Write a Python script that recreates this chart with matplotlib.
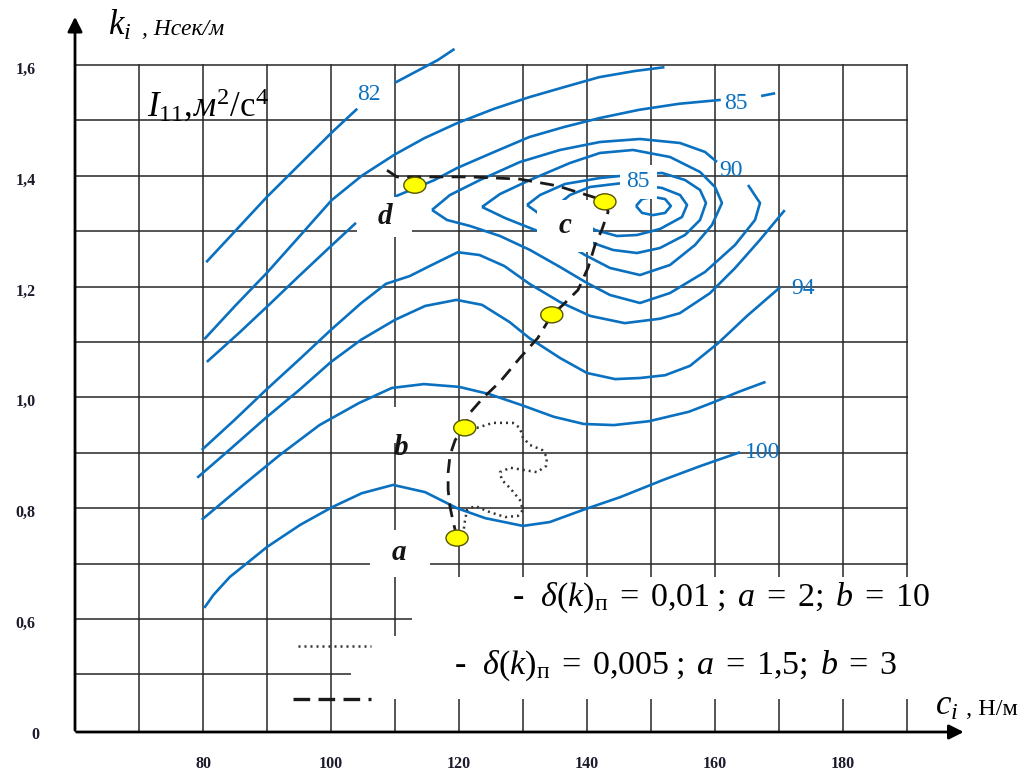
import matplotlib
matplotlib.use("Agg")
import matplotlib.pyplot as plt
from matplotlib.patches import Ellipse, Rectangle
import numpy as np

plt.rcParams['mathtext.fontset'] = 'custom'
plt.rcParams['mathtext.rm'] = 'Liberation Serif'
plt.rcParams['mathtext.it'] = 'Liberation Serif:italic'
plt.rcParams['mathtext.bf'] = 'Liberation Serif:bold'
SERIF = ['Liberation Serif', 'DejaVu Serif']

# ---------------- data (c_i in N/m, k_i in N*s/m) ----------------
x_ticks = [80, 100, 120, 140, 160, 180]
x_tick_labels = ['80', '100', '120', '140', '160', '180']
y_ticks = [1.6, 1.4, 1.2, 1.0, 0.8, 0.6, 0.4]
y_tick_labels = ['1,6', '1,4', '1,2', '1,0', '0,8', '0,6', '0']
grid_x = [70, 80, 90, 100, 110, 120, 130, 140, 150, 160, 170, 180, 190]
grid_y = [0.5, 0.6, 0.7, 0.8, 0.9, 1.0, 1.1, 1.2, 1.3, 1.4, 1.5, 1.6]

# contour "82"
c82_a_x = [80.5, 90.0, 100.2, 104.1]
c82_a_y = [1.244, 1.362, 1.479, 1.521]
c82_b_x = [110.0, 116.7, 119.3]
c82_b_y = [1.568, 1.609, 1.629]
# second line
cB_x = [80.2, 85.0, 90.0, 95.1, 100.1, 104.8, 109.9, 114.6, 119.7, 125.5, 131.0, 136.4, 141.9, 147.4, 152.1]
cB_y = [1.105, 1.165, 1.225, 1.291, 1.356, 1.400, 1.438, 1.468, 1.495, 1.521, 1.542, 1.560, 1.578, 1.589, 1.596]
# "85" line
c85_a_x = [80.6, 85.6, 90.3, 95.0, 99.7, 103.9]
c85_a_y = [1.064, 1.116, 1.167, 1.219, 1.270, 1.315]
c85_b_x = [109.9, 116.1, 119.7, 125.5, 131.0, 136.4, 141.9, 148.1, 154.4, 160.9]
c85_b_y = [1.362, 1.392, 1.414, 1.443, 1.470, 1.488, 1.504, 1.519, 1.530, 1.537]
c85_c_x = [167.2, 169.4]
c85_c_y = [1.544, 1.549]
# line with bump, ending upper right
cD_x = [79.8, 84.9, 89.8, 95.0, 100.0, 104.7, 108.6, 112.3, 115.4, 119.8, 123.2, 127.1, 131.0, 135.8, 140.5, 145.9, 151.4, 154.5, 159.2, 163.1, 167.0, 170.9]
cD_y = [0.905, 0.959, 1.013, 1.068, 1.122, 1.170, 1.205, 1.219, 1.237, 1.262, 1.257, 1.237, 1.205, 1.172, 1.147, 1.134, 1.142, 1.152, 1.188, 1.233, 1.284, 1.338]
# "94" line
c94_x = [79.1, 84.1, 89.8, 95.0, 100.0, 104.7, 110.0, 114.7, 119.6, 123.6, 127.9, 131.0, 135.8, 140.0, 144.4, 148.3, 152.2, 156.1, 160.5, 165.0, 170.2]
c94_y = [0.855, 0.905, 0.963, 1.013, 1.064, 1.104, 1.140, 1.165, 1.176, 1.167, 1.136, 1.107, 1.071, 1.044, 1.033, 1.035, 1.040, 1.057, 1.098, 1.147, 1.199]
# next line
cF_x = [79.8, 86.3, 92.0, 98.2, 104.4, 109.5, 114.5, 120.0, 124.7, 129.8, 134.8, 139.5, 144.2, 149.7, 155.9, 159.5, 163.7, 167.9]
cF_y = [0.779, 0.842, 0.896, 0.950, 0.990, 1.017, 1.024, 1.019, 1.006, 0.986, 0.965, 0.952, 0.950, 0.957, 0.974, 0.990, 1.010, 1.028]
# "100" line
c100_x = [80.2, 81.6, 84.2, 86.9, 90.0, 95.2, 100.2, 104.8, 109.7, 114.7, 119.7, 124.1, 130.0, 134.2, 139.4, 145.2, 151.9, 157.7, 163.9]
c100_y = [0.620, 0.643, 0.676, 0.701, 0.730, 0.770, 0.802, 0.827, 0.842, 0.829, 0.800, 0.782, 0.768, 0.775, 0.797, 0.820, 0.851, 0.876, 0.901]

# closed rings around the minimum
ring1_a_x = [115.78, 118.59, 123.28, 129.53, 135.78, 142.03, 148.28, 154.53, 158.44, 160.31]
ring1_a_y = [1.3383, 1.3653, 1.3924, 1.4249, 1.4466, 1.4610, 1.4664, 1.4592, 1.4430, 1.4249]
ring1_b_x = [165.16, 167.03, 166.25, 163.13, 158.44, 152.97, 148.28, 143.59, 140.0, 135.78, 131.09, 126.41, 121.72, 118.13, 115.78]
ring1_b_y = [1.3834, 1.3509, 1.3202, 1.2751, 1.2264, 1.1884, 1.1704, 1.1848, 1.2065, 1.2354, 1.2661, 1.2913, 1.3094, 1.3202, 1.3383]
ring2_x = [123.59, 126.41, 131.09, 137.34, 142.03, 147.19, 152.97, 157.66, 160.0, 161.09, 159.53, 156.88, 152.97, 148.28, 143.59, 139.69, 135.78, 131.09, 127.19, 123.59]
ring2_y = [1.3437, 1.3671, 1.3924, 1.4231, 1.4412, 1.4466, 1.4339, 1.4069, 1.3798, 1.3509, 1.3112, 1.2751, 1.2390, 1.2209, 1.2336, 1.2570, 1.2841, 1.3058, 1.3238, 1.3437]
ring3_x = [130.63, 132.66, 136.56, 142.03, 146.72, 151.72, 155.31, 157.66, 158.59, 157.66, 155.31, 151.41, 147.81, 144.06, 140.47, 136.56, 133.44, 130.63]
ring3_y = [1.3473, 1.3653, 1.3852, 1.3960, 1.4014, 1.4051, 1.3924, 1.3744, 1.3509, 1.3202, 1.2931, 1.2697, 1.2606, 1.2661, 1.2805, 1.3022, 1.3238, 1.3473]
ring4_x = [135.78, 137.34, 140.47, 145.63, 151.72, 154.53, 155.63, 154.84, 151.41, 147.81, 144.69, 141.25, 138.13, 135.78]
ring4_y = [1.3509, 1.3653, 1.3798, 1.3870, 1.3780, 1.3653, 1.3473, 1.3256, 1.3040, 1.2931, 1.2913, 1.3022, 1.3238, 1.3509]
ring5_x = [147.66, 148.6, 150.3, 152.2, 153.1, 152.2, 150.3, 148.6, 147.66]
ring5_y = [1.3455, 1.358, 1.362, 1.358, 1.3455, 1.333, 1.329, 1.333, 1.3455]

# optimisation paths and their points
dash_x = [108.75, 110.3, 113.9, 121.7, 129.5, 135.3, 140.9, 142.8, 143.3, 142.3, 141.25, 140.2, 138.6, 136.25, 134.5,
          132.3, 129.5, 126.4, 123.75, 121.7, 120.9, 119.4, 118.6, 118.3, 118.3, 118.6, 119.1, 119.7]
dash_y = [1.410, 1.398, 1.398, 1.398, 1.394, 1.382, 1.362, 1.353, 1.335, 1.302, 1.275, 1.235, 1.194, 1.167, 1.149,
          1.107, 1.071, 1.028, 0.999, 0.972, 0.945, 0.923, 0.896, 0.864, 0.833, 0.802, 0.775, 0.746]
dot_x = [120.9, 122.8, 125.3, 128.4, 129.5, 130.0, 131.1, 133.0, 133.75, 133.6, 132.2, 128.0, 126.4, 126.7, 128.0,
         129.5, 130.0, 129.2, 127.2, 124.8, 122.5, 121.25, 120.9, 120.6]
dot_y = [0.945, 0.945, 0.954, 0.954, 0.945, 0.927, 0.914, 0.905, 0.892, 0.876, 0.865, 0.873, 0.865, 0.851, 0.836,
         0.815, 0.797, 0.786, 0.784, 0.793, 0.804, 0.797, 0.775, 0.748]
pts_x = [113.1, 142.8, 134.5, 120.9, 119.7]
pts_y = [1.383, 1.353, 1.149, 0.945, 0.746]
pt_names = ['d', 'c', 'b', 'a']
name_x = [108.4, 136.6, 111.0, 110.6]
name_y = [1.326, 1.310, 0.910, 0.720]
# blank areas behind the point names: x0, x1, y0, y1
name_box_x0 = [104.06, 132.19, 108.44, 106.09]
name_box_x1 = [112.66, 140.94, 113.59, 115.47]
name_box_y0 = [1.2895, 1.2625, 0.9177, 0.6758]
name_box_y1 = [1.3617, 1.3563, 0.9827, 0.7606]

contour_labels = ['82', '85', '90', '85', '94', '100']
contour_label_x = [105.9, 163.2, 162.5, 148.0, 173.7, 167.5]
contour_label_y = [1.547, 1.530, 1.409, 1.389, 1.196, 0.901]

# ---------------- figure ----------------
fig = plt.figure(figsize=(10.27, 7.73), dpi=100)
ax = fig.add_axes([0, 0, 1, 1])
ax.set_xlim(48.28, 208.75)
ax.set_ylim(0.3220, 1.7173)
ax.axis('off')

X0, Y0 = 60.0, 0.396
GRID = '#262626'
BLUE = '#0A70C0'

for gx in grid_x:
    ax.plot([gx, gx], [Y0, 1.6], color=GRID, lw=1.1, zorder=1)
for gy in grid_y:
    ax.plot([X0, 190], [gy, gy], color=GRID, lw=1.1, zorder=1)

# blank zones in the grid (legend area)
ax.add_patch(Rectangle((112.7, 0.456), 95, 0.220, fc='white', ec='none', zorder=3))
ax.add_patch(Rectangle((103.1, 0.456), 11, 0.113, fc='white', ec='none', zorder=3))
for bx0, bx1, by0, by1 in zip(name_box_x0, name_box_x1, name_box_y0, name_box_y1):
    ax.add_patch(Rectangle((bx0, by0), bx1 - bx0, by1 - by0, fc='white', ec='none', zorder=3))

blue_kw = dict(color=BLUE, lw=1.9, zorder=2, solid_capstyle='butt')
for xs, ys in [(c82_a_x, c82_a_y), (c82_b_x, c82_b_y), (cB_x, cB_y), (c85_a_x, c85_a_y), (c85_b_x, c85_b_y),
               (c85_c_x, c85_c_y), (cD_x, cD_y), (c94_x, c94_y), (cF_x, cF_y), (c100_x, c100_y),
               (ring1_a_x, ring1_a_y), (ring1_b_x, ring1_b_y), (ring2_x, ring2_y), (ring3_x, ring3_y),
               (ring4_x, ring4_y), (ring5_x, ring5_y)]:
    ax.plot(xs, ys, **blue_kw)

for i, t in enumerate(contour_labels):
    bb = dict(fc='white', ec='none', pad=5) if i == 3 else None
    ax.text(contour_label_x[i], contour_label_y[i], t, color=BLUE, fontsize=17, family=SERIF,
            ha='center', va='center', zorder=5, bbox=bb)

# paths
ax.plot(dash_x, dash_y, color='#1a1a1a', lw=2.0, dashes=(5, 3), zorder=6)
ax.plot(dot_x, dot_y, color='#333333', lw=1.8, linestyle=(0, (0.8, 1.6)), zorder=6)
for px, py in zip(pts_x, pts_y):
    ax.add_patch(Ellipse((px, py), 3.45, 0.029, fc='#FFFF00', ec='#555500', lw=1.0, zorder=7))
for n, nx, ny in zip(pt_names, name_x, name_y):
    ax.text(nx, ny, n, fontsize=21, family=SERIF, fontweight='bold', fontstyle='italic', color='#141414',
            ha='center', va='center', zorder=5)

# axes with arrows
ax.annotate('', xy=(X0, 1.692), xytext=(X0, Y0 - 0.002),
            arrowprops=dict(arrowstyle='-|>', lw=2.0, color='black', mutation_scale=22), zorder=8)
ax.annotate('', xy=(199.3, Y0), xytext=(X0 - 0.2, Y0),
            arrowprops=dict(arrowstyle='-|>', lw=2.0, color='black', mutation_scale=22), zorder=8)

for v, t in zip(y_ticks, y_tick_labels):
    ax.text(52.3 if t != '0' else 53.8, v - 0.009, t, fontsize=11.5, family=SERIF, color='#1b1b2b',
            fontweight='bold', ha='center', va='center')
for v, t in zip(x_ticks, x_tick_labels):
    ax.text(v, 0.338, t, fontsize=11.5, family=SERIF, color='#1b1b2b', fontweight='bold',
            ha='center', va='center')

# axis titles
ax.text(65.2, 1.654, r'$k_i$', fontsize=25, family=SERIF, ha='left', va='baseline')
ax.text(70.4, 1.654, ', Нсек/м', fontsize=17, family=SERIF, fontstyle='italic', ha='left', va='baseline')
ax.text(71.2, 1.506, r'$I_{11},\!м^2/\mathrm{с}^4$', fontsize=25, family=SERIF, ha='left', va='baseline')
ax.text(194.4, 0.4267, r'$c_i$', fontsize=25, family=SERIF, ha='left', va='baseline')
ax.text(198.3, 0.4267, ' , Н/м', fontsize=17.5, family=SERIF, ha='left', va='baseline')

# legend
ax.plot([94.8, 106.2], [0.551, 0.551], color='#333333', lw=1.8, linestyle=(0, (0.8, 1.6)), zorder=6)
ax.plot([94.1, 106.25], [0.456, 0.456], color='#1a1a1a', lw=2.4, dashes=(5, 2.5), zorder=6)
ax.text(128.3, 0.624, r'-  $\delta(k)_{\mathrm{п}}\;=\;0{,}01\;;\;a\;=\;2;\;b\;=\;10$', fontsize=24.5, family=SERIF,
        ha='left', va='baseline', zorder=6)
ax.text(119.2, 0.502, r'-  $\delta(k)_{\mathrm{п}}\;=\;0{,}005\;;\;a\;=\;1{,}5;\;b\;=\;3$', fontsize=24.5, family=SERIF,
        ha='left', va='baseline', zorder=6)

fig.savefig('out.png', dpi=100)
